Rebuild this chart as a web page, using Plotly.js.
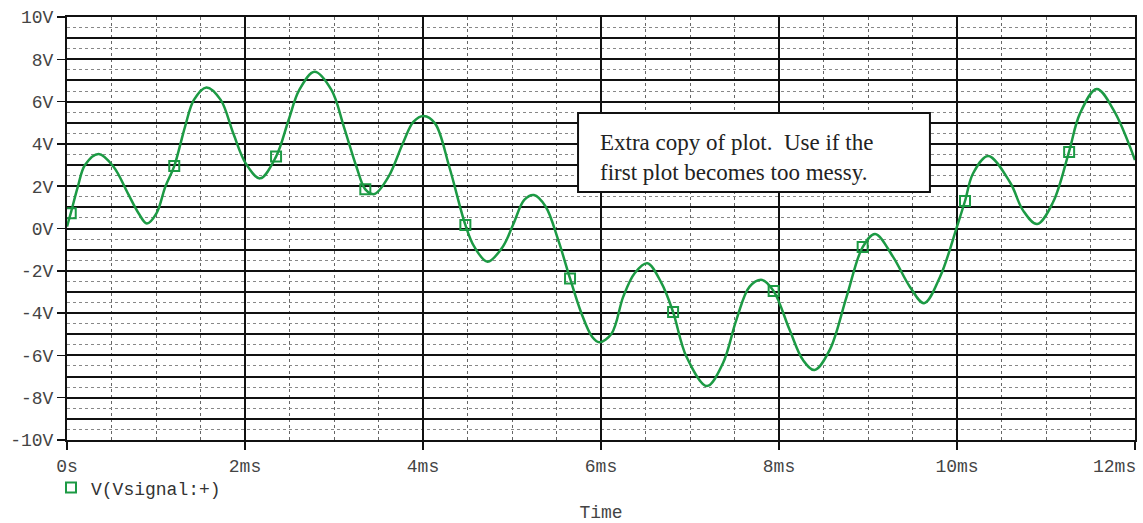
<!DOCTYPE html>
<html>
<head>
<meta charset="utf-8">
<script src="https://cdn.plot.ly/plotly-3.0.1.min.js"></script>
<style>html,body{margin:0;padding:0;background:#fff;}#chart{width:1143px;height:523px;}</style>
</head>
<body>
<div id="chart"></div>
<script>
// Curve (time in ms, voltage in V)
const timeMs = [0.00, 0.042, 0.122, 0.202, 0.355, 0.523, 0.684, 0.804, 0.897, 1.005, 1.105, 1.205, 1.326, 1.426, 1.567, 1.727, 1.868, 2.008, 2.169, 2.349, 2.49, 2.61, 2.782, 2.971, 3.111, 3.252, 3.352, 3.453, 3.613, 3.774, 3.894, 4.007, 4.135, 4.295, 4.476, 4.576, 4.725, 4.897, 5.018, 5.138, 5.246, 5.379, 5.519, 5.652, 5.78, 5.90, 5.98, 6.12, 6.25, 6.38, 6.52, 6.68, 6.81, 6.96, 7.19, 7.37, 7.52, 7.67, 7.81, 7.94, 8.12, 8.27, 8.40, 8.57, 8.76, 8.94, 9.08, 9.28, 9.47, 9.63, 9.81, 10.0, 10.09, 10.18, 10.35, 10.6, 10.74, 10.9, 11.08, 11.26, 11.38, 11.57, 11.76, 12.0];
const voltage = [0.09, 0.72, 1.98, 3.0, 3.52, 2.92, 1.66, 0.72, 0.24, 0.72, 1.98, 2.95, 4.81, 6.08, 6.67, 6.08, 4.5, 3.08, 2.37, 3.4, 5.13, 6.55, 7.41, 6.55, 4.81, 2.92, 1.85, 1.63, 2.45, 4.03, 5.05, 5.32, 4.97, 2.92, 0.17, -0.86, -1.57, -0.86, 0.24, 1.35, 1.58, 1.03, -0.54, -2.36, -4.01, -5.12, -5.38, -4.96, -3.22, -2.1, -1.64, -2.58, -3.95, -6.06, -7.45, -6.37, -4.33, -2.75, -2.43, -2.96, -4.8, -6.22, -6.69, -5.74, -3.22, -0.88, -0.26, -1.33, -2.75, -3.53, -2.28, 0.09, 1.30, 2.60, 3.43, 2.15, 0.87, 0.21, 1.25, 3.65, 5.42, 6.6, 5.6, 3.24];

// Symbol markers on the trace
const markerTimeMs = [0.042, 1.205, 2.349, 3.352, 4.476, 5.652, 6.81, 7.94, 8.94, 10.09, 11.26];
const markerVoltage = [0.72, 2.95, 3.40, 1.85, 0.17, -2.36, -3.95, -2.96, -0.88, 1.30, 3.62];

// Tick labels
const xTickVals = [0, 2, 4, 6, 8, 10, 12];
const xTickText = ["0s", "2ms", "4ms", "6ms", "8ms", "10ms", "12ms"];
const yTickVals = [10, 8, 6, 4, 2, 0, -2, -4, -6, -8, -10];
const yTickText = ["10V", "8V", "6V", "4V", "2V", "0V", "-2V", "-4V", "-6V", "-8V", "-10V"];

const seriesName = "V(Vsignal:+)";
const xTitle = "Time";
const noteText = "Extra copy of plot.  Use if the<br>first plot becomes too messy.";

const green = "#1c9a44";
const mono = "Liberation Mono, Courier New, monospace";
const labelColor = "#444";

// last tick label is right-aligned at the edge, drawn as an annotation
const lastIdx = xTickVals.length - 1;
const xTickTextShown = xTickText.map((t, i) => i === lastIdx ? "" : t);

const traces = [
  {
    x: timeMs, y: voltage, type: "scatter", mode: "lines",
    line: {color: green, width: 2.5, shape: "spline", smoothing: 1},
    showlegend: false, yaxis: "y2", hoverinfo: "x+y"
  },
  {
    x: markerTimeMs, y: markerVoltage, type: "scatter", mode: "markers",
    name: seriesName,
    marker: {symbol: "square-open", size: 10, color: green, line: {width: 2, color: green}}
  }
];

const layout = {
  width: 1143, height: 523,
  margin: {l: 67, r: 8, t: 17, b: 83},
  paper_bgcolor: "#ffffff", plot_bgcolor: "#ffffff",
  showlegend: true,
  legend: {orientation: "h", x: -0.015, xanchor: "left", y: -0.113, yanchor: "middle",
           font: {family: mono, size: 18, color: "#333"}, bgcolor: "rgba(0,0,0,0)"},
  xaxis: {
    range: [0, 12], tickmode: "array", tickvals: xTickVals, ticktext: xTickTextShown,
    showgrid: true, gridcolor: "#111", gridwidth: 2,
    minor: {dtick: 0.5, showgrid: true, gridcolor: "#666", gridwidth: 1, griddash: "dot", ticks: ""},
    showline: true, linecolor: "#111", linewidth: 2, mirror: true,
    ticks: "outside", ticklen: 8, tickwidth: 2, tickcolor: "#111",
    zeroline: false,
    tickfont: {family: mono, size: 18, color: labelColor},
    title: {text: xTitle, font: {family: mono, size: 18, color: labelColor}, standoff: 30}
  },
  yaxis: {
    range: [-10, 10], tickmode: "array", tickvals: yTickVals, ticktext: yTickText,
    showgrid: true, gridcolor: "#111", gridwidth: 2,
    minor: {dtick: 0.5, showgrid: true, gridcolor: "#888", gridwidth: 1, griddash: "dot", ticks: ""},
    showline: true, linecolor: "#111", linewidth: 2, mirror: true,
    ticks: "outside", ticklen: 8, tickwidth: 1.5, tickcolor: "#111",
    zeroline: false,
    tickfont: {family: mono, size: 18, color: labelColor}
  },
  yaxis2: {
    range: [-10, 10], overlaying: "y", side: "left", dtick: 1,
    showgrid: true, gridcolor: "#111", gridwidth: 2,
    showticklabels: false, ticks: "", zeroline: false, showline: false
  },
  shapes: [{
    type: "rect", xref: "paper", yref: "paper",
    x0: 0.4785, x1: 0.808, y0: 0.586, y1: 0.773,
    fillcolor: "#ffffff", line: {color: "#111", width: 2}, layer: "above"
  }],
  annotations: [
    {
      xref: "paper", yref: "paper", x: 0.4975, y: 0.667, xanchor: "left", yanchor: "middle",
      text: noteText, showarrow: false, align: "left",
      font: {family: "Liberation Serif, Times New Roman, serif", size: 23, color: "#222"}
    },
    {
      xref: "x", yref: "paper", x: xTickVals[lastIdx], y: -0.064, xanchor: "right", yanchor: "middle",
      xshift: 3, text: xTickText[lastIdx], showarrow: false,
      font: {family: mono, size: 18, color: labelColor}
    }
  ]
};

Plotly.newPlot("chart", traces, layout, {displayModeBar: false, staticPlot: true});
</script>
</body>
</html>
